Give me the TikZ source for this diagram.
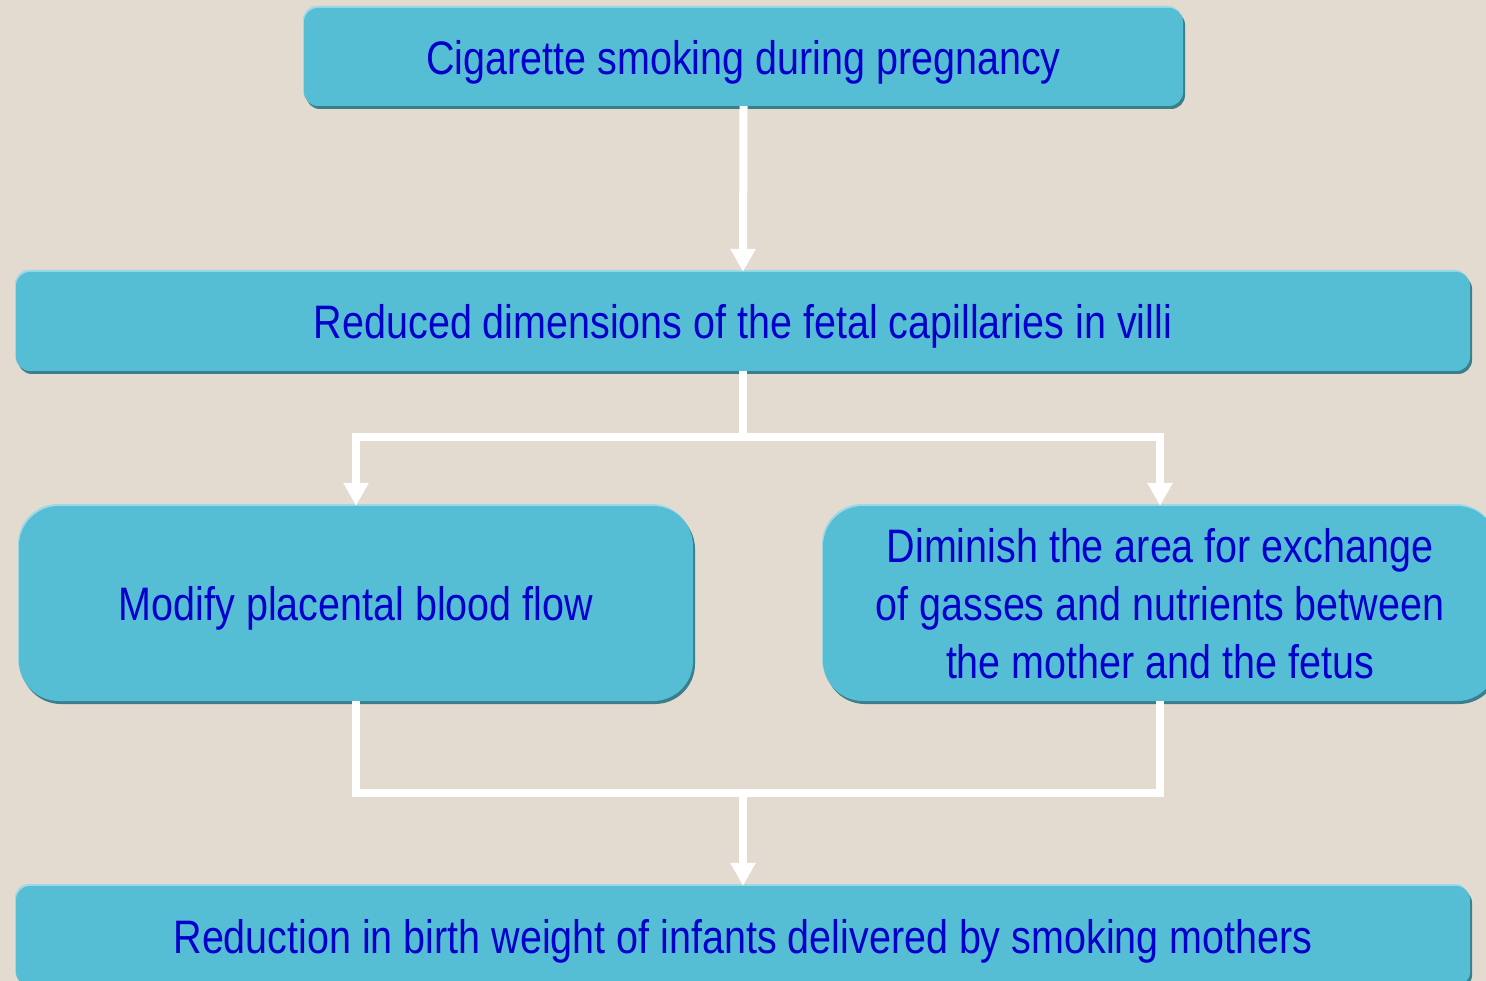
\documentclass[tikz,border=0pt]{standalone}
\usepackage{fontspec}
\setmainfont{Liberation Sans}[FakeStretch=0.84]
\usetikzlibrary{arrows.meta,shadows}
\definecolor{bg}{HTML}{E3DAD0}
\definecolor{boxfill}{HTML}{55BED5}
\definecolor{boxdark}{HTML}{3C7F8C}
\definecolor{boxlight}{HTML}{9CD9E6}
\definecolor{txt}{HTML}{0000CC}
\tikzset{
  flowbox/.style={fill=boxfill, inner sep=0pt, text=txt, align=center,
    font=\fontsize{47}{58}\selectfont,
    general shadow={fill=boxlight, shadow xshift=-1pt, shadow yshift=2pt},
    general shadow={fill=boxdark, shadow xshift=2pt, shadow yshift=-3pt}},
  oneline/.style={text depth=0pt},
  link/.style={draw=white, line width=8pt, line join=miter},
  arr/.style={link, -{Triangle[width=24pt,length=23pt]}},
}
\begin{document}
\begin{tikzpicture}[x=1pt,y=-1pt]
\fill[bg] (0,0) rectangle (1486,981);
\useasboundingbox (0,0) rectangle (1486,981);
\node[flowbox, oneline, rounded corners=14pt, minimum width=879pt, minimum height=98pt] (top) at (743.5,57) {Cigarette smoking during pregnancy};
\node[flowbox, oneline, rounded corners=14pt, minimum width=1454pt, minimum height=99pt] (mid) at (743,321.5) {Reduced dimensions of the fetal capillaries in villi};
\node[flowbox, oneline, rounded corners=40pt, minimum width=674pt, minimum height=195pt] (left) at (356,603.5) {Modify placental blood flow};
\node[flowbox, rounded corners=40pt, minimum width=674pt, minimum height=195pt] (right) at (1160,603.5) {Diminish the area for exchange\\of gasses and nutrients between\\the mother and the fetus};
\node[flowbox, oneline, rounded corners=14pt, minimum width=1454pt, minimum height=100pt] (bot) at (743,936) {Reduction in birth weight of infants delivered by smoking mothers};
\draw[arr] (top.south) -- (mid.north);
\coordinate (split) at (743,437);
\draw[link] (mid.south) -- (split);
\draw[arr] (split) -| (left.north);
\draw[arr] (split) -| (right.north);
\coordinate (join) at (743,793);
\draw[link] (left.south) |- (join) -| (right.south);
\draw[arr] (join) -- (bot.north);
\end{tikzpicture}
\end{document}
